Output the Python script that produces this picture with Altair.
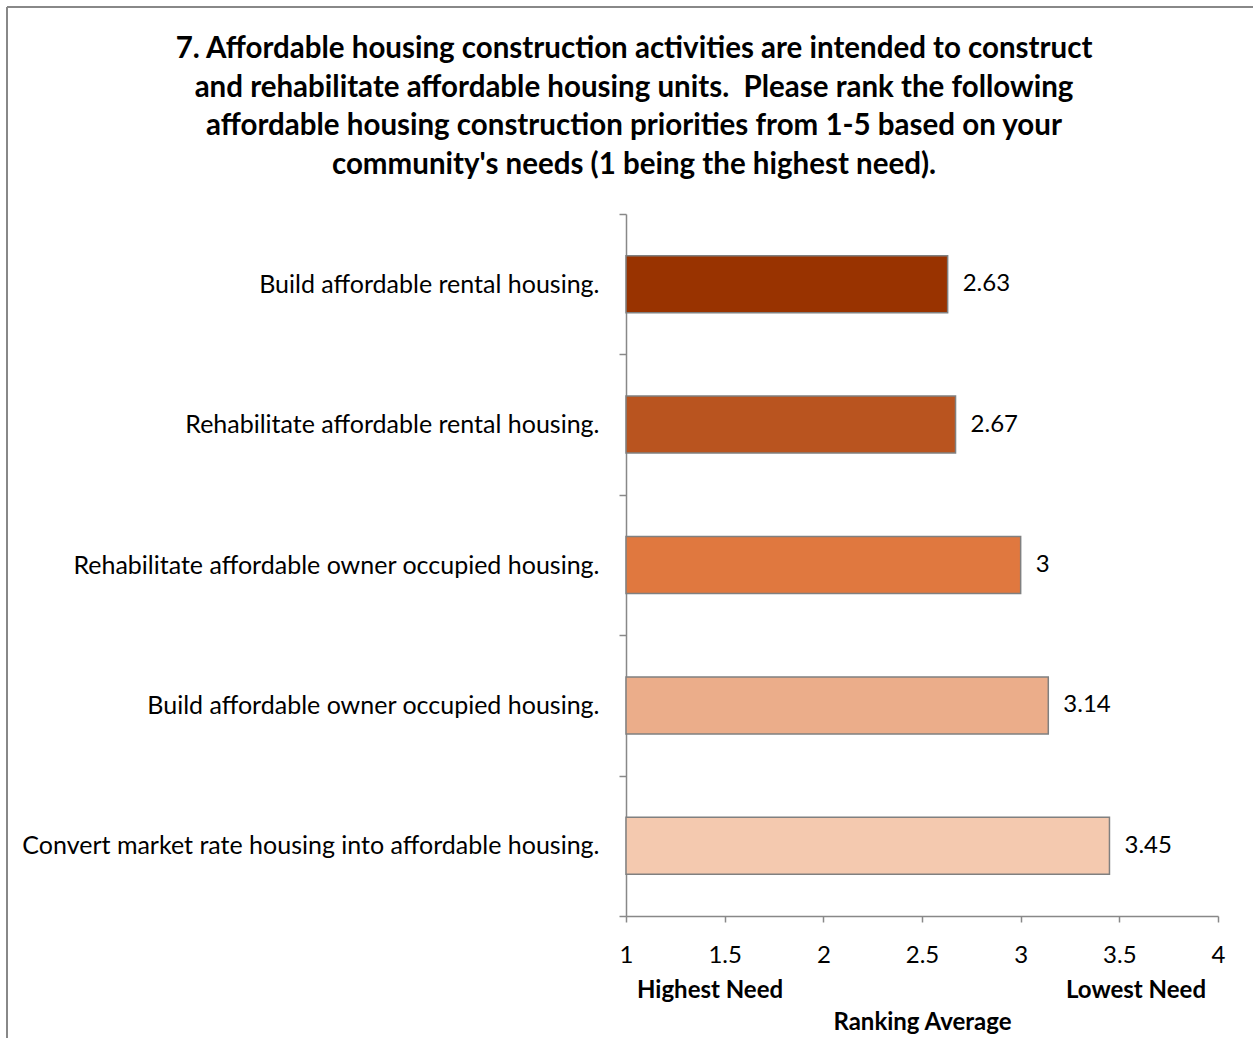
import altair as alt
import pandas as pd

categories = [
    "Build affordable rental housing.",
    "Rehabilitate affordable rental housing.",
    "Rehabilitate affordable owner occupied housing.",
    "Build affordable owner occupied housing.",
    "Convert market rate housing into affordable housing.",
]
values = [2.63, 2.67, 3.0, 3.14, 3.45]
colors = ["#993300", "#B9541F", "#E0783F", "#EBAD8A", "#F4C9AF"]
x_ticks = [1, 1.5, 2, 2.5, 3, 3.5, 4]
title_lines = [
    "7. Affordable housing construction activities are intended to construct",
    "and rehabilitate affordable housing units.\u00a0 Please rank the following",
    "affordable housing construction priorities from 1-5 based on your",
    "community's needs (1 being the highest need).",
]
end_labels = ["Highest Need", "Lowest Need"]
end_positions = [1, 4]

df = pd.DataFrame({"cat": categories, "val": values, "color": colors})
ends_left = pd.DataFrame({"txt": [end_labels[0]], "pos": [end_positions[0]]})
ends_right = pd.DataFrame({"txt": [end_labels[1]], "pos": [end_positions[1]]})
one = pd.DataFrame({"a": [0]})

FONT = "Lato"
FS = 24
W, H = 592, 702

x_enc = alt.X(
    "val:Q",
    scale=alt.Scale(domain=[1, 4], nice=False, zero=False),
    axis=alt.Axis(
        values=x_ticks, format="~g", title="Ranking Average",
        titleFont=FONT, titleFontSize=FS, titleFontWeight="bold",
        titleColor="black", titleBaseline="middle", titleY=106,
        labelFont=FONT, labelFontSize=FS, labelColor="black",
        labelPadding=21, labelFlush=False, tickSize=6, tickColor="#888888",
        tickWidth=1.5, domainColor="#888888", domainWidth=1.5, grid=False,
    ),
)
y_enc = alt.Y(
    "cat:N", sort=categories,
    scale=alt.Scale(paddingInner=0, paddingOuter=0),
    axis=alt.Axis(
        title=None, labelFont=FONT, labelFontSize=25, labelColor="black",
        labelPadding=20, tickSize=7, tickColor="#888888", tickWidth=1.5,
        domainColor="#888888", domainWidth=1.5, tickBand="extent",
        labelLimit=0, grid=False,
    ),
)

bars = alt.Chart(df).mark_bar(size=57, stroke="#808080", strokeWidth=1.5).encode(
    x=x_enc, x2=alt.datum(1), y=y_enc,
    color=alt.Color("color:N", scale=None),
)
vals = alt.Chart(df).mark_text(
    align="left", baseline="middle", dx=15, font=FONT, fontSize=FS, color="black"
).encode(
    x="val:Q", y=alt.Y("cat:N", sort=categories),
    text=alt.Text("val:Q", format="~g"),
)
ends_l = alt.Chart(ends_left).mark_text(
    align="left", baseline="middle", dx=11, font=FONT, fontSize=FS,
    fontWeight="bold", color="black"
).encode(x="pos:Q", y=alt.value(H + 75), text="txt:N")
ends_r = alt.Chart(ends_right).mark_text(
    align="right", baseline="middle", dx=-12, font=FONT, fontSize=FS,
    fontWeight="bold", color="black"
).encode(x="pos:Q", y=alt.value(H + 75), text="txt:N")

title = alt.Chart(one).mark_text(
    text=title_lines, align="center", baseline="top", font=FONT, fontSize=29.5,
    fontWeight="bold", color="black", lineHeight=38.5,
).encode(x=alt.value(8), y=alt.value(-179))

border_left = alt.Chart(one).mark_rule(color="#888888", strokeWidth=2).encode(
    x=alt.value(-619), y=alt.value(-207), y2=alt.value(H + 200))
border_top = alt.Chart(one).mark_rule(color="#888888", strokeWidth=2).encode(
    x=alt.value(-619), x2=alt.value(W + 100), y=alt.value(-207))

chart = alt.layer(
    bars, vals, ends_l, ends_r, title, border_left, border_top
).properties(
    width=W, height=H,
    autosize=alt.AutoSizeParams(type="none"),
    padding={"left": 626, "top": 214, "right": 35, "bottom": 122},
).configure(background="white").configure_view(stroke=None)

chart.save("out.html", embed_options={"renderer": "svg", "actions": False})
